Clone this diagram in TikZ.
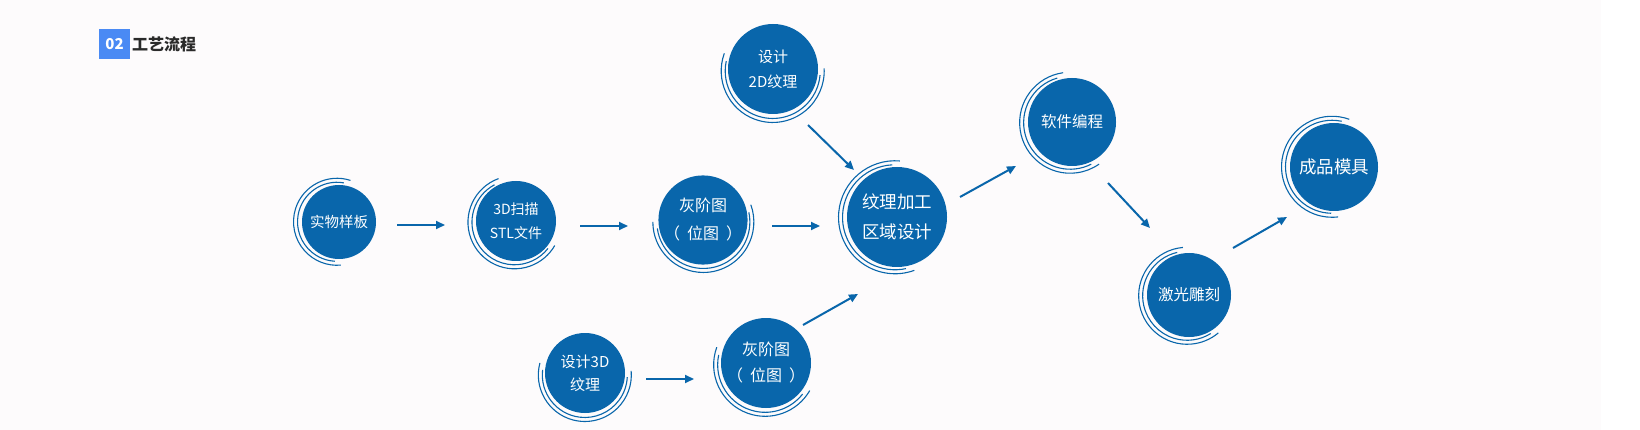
\documentclass[tikz,border=0pt]{standalone}
\usepackage{fontspec}
\setmainfont{Noto Sans CJK SC}
\usetikzlibrary{calc,arrows.meta}
\definecolor{cblue}{HTML}{0966AB}
\definecolor{tblue}{HTML}{4A8AF4}
\definecolor{bgc}{HTML}{FDFBFC}
\definecolor{ttext}{HTML}{2A2A2A}
\newcommand\ringarcs[4]{%
  \path ($(#1.center)+({0.5*(#3+#4)}:2)$) coordinate (rc);
  \draw[ring] (rc) ++({#3+8}:{#2+2.5}) arc[start angle={#3+8}, end angle={#4-8}, radius={#2+2.5}];
  \draw[ring] (rc) ++({#3}:{#2+6.5}) arc[start angle={#3}, end angle={#4}, radius={#2+6.5}];
}
\newcommand\pargap{\hspace{7pt}}
\begin{document}
\begin{tikzpicture}[x=1pt,y=1pt,
  bubble/.style={circle, fill=cblue, text=white, inner sep=0pt, align=center},
  ring/.style={draw=cblue, line width=1.1pt},
  arr/.style={draw=cblue, line width=2pt, -{Triangle[length=9pt,width=8pt]}}]
\useasboundingbox (0,0) rectangle (1640,-430);
\fill[white] (0,0) rectangle (1640,-430);
\fill[bgc] (0,0) rectangle (1601,-430);
% title
\node[fill=tblue, minimum width=31pt, minimum height=30pt, inner sep=0pt, text=white, font=\fontsize{15}{15}\selectfont\bfseries] (tnum) at (114.5,-44) {02};
\node[anchor=west, inner sep=0pt, text=ttext, font=\fontsize{16}{16}\selectfont\bfseries] (ttl) at (132,-44) {工艺流程};
% nodes
\node[bubble, minimum size=74pt, font=\fontsize{14.5}{24}\selectfont] (n1) at (339,-222) {实物样板};
\node[bubble, minimum size=80pt, font=\fontsize{14}{23.5}\selectfont] (n2) at (516,-221) {3D扫描\\STL文件};
\node[bubble, minimum size=88pt, font=\fontsize{16}{28}\selectfont] (n3) at (703,-220) {灰阶图\\（\pargap 位图\pargap ）};
\node[bubble, minimum size=100pt, font=\fontsize{17.5}{30}\selectfont] (n4) at (897,-217) {纹理加工\\区域设计};
\node[bubble, minimum size=90pt, font=\fontsize{15}{25}\selectfont] (n5) at (773,-69) {设计\\2D纹理};
\node[bubble, minimum size=80pt, font=\fontsize{15}{23}\selectfont] (n6) at (585,-373) {设计3D\\纹理};
\node[bubble, minimum size=90pt, font=\fontsize{16}{26}\selectfont] (n7) at (766,-363) {灰阶图\\（\pargap 位图\pargap ）};
\node[bubble, minimum size=88pt, font=\fontsize{15.5}{24}\selectfont] (n8) at (1072,-122) {软件编程};
\node[bubble, minimum size=84pt, font=\fontsize{15.5}{24}\selectfont] (n9) at (1189,-295) {激光雕刻};
\node[bubble, minimum size=88pt, font=\fontsize{17.5}{28}\selectfont] (n10) at (1334,-167) {成品模具};
% rings
\ringarcs{n1}{37}{72}{275}
\ringarcs{n2}{40}{110}{330}
\ringarcs{n3}{44}{180}{380}
\ringarcs{n4}{50}{85}{290}
\ringarcs{n5}{45}{160}{363}
\ringarcs{n6}{40}{165}{365}
\ringarcs{n7}{45}{160}{330}
\ringarcs{n8}{44}{98}{305}
\ringarcs{n9}{42}{95}{310}
\ringarcs{n10}{44}{70}{277}
% arrows
\draw[arr] ($(n1.center)+(58,-3)$) -- ($(n2.center)+(-71,-4)$);
\draw[arr] ($(n2.center)+(64,-5)$) -- ($(n3.center)+(-75,-6)$);
\draw[arr] ($(n3.center)+(69,-6)$) -- ($(n4.center)+(-77,-9)$);
\draw[arr] ($(n6.center)+(61,-6)$) -- ($(n7.center)+(-72,-16)$);
\draw[arr] ($(n5.center)+(35,-56)$) -- ($(n4.center)+(-43,47)$);
\draw[arr] ($(n7.center)+(37,38)$) -- ($(n4.center)+(-39,-77)$);
\draw[arr] ($(n4.center)+(63,20)$) -- ($(n8.center)+(-56,-44)$);
\draw[arr] ($(n8.center)+(36,-61)$) -- ($(n9.center)+(-39,67)$);
\draw[arr] ($(n9.center)+(44,47)$) -- ($(n10.center)+(-47,-50)$);
\end{tikzpicture}
\end{document}
